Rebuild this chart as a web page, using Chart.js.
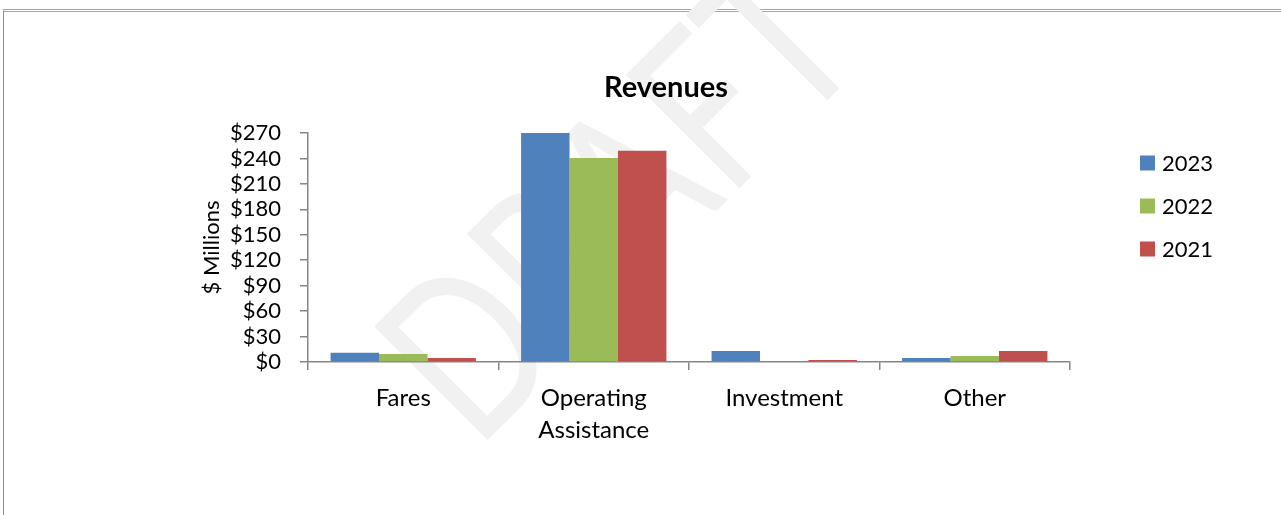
<!DOCTYPE html>
<html>
<head>
<meta charset="utf-8">
<script src="https://cdn.jsdelivr.net/npm/chart.js@4.4.1/dist/chart.umd.min.js"></script>
<style>
  html, body { margin: 0; padding: 0; background: #fff; }
  #wrap { position: relative; width: 1281px; height: 515px; overflow: hidden; }
  #frame { position: absolute; left: 3px; top: 9px; right: 0; bottom: 0;
           border-top: 3px double #a6a6a6; border-left: 1px solid #8c8c8c; }
  #watermark { position: absolute; left: 612px; top: 194px;
               transform: translate(-50%, -50%) rotate(-45deg) scale(0.77, 1);
               font-family: Lato, sans-serif; font-weight: 400; font-size: 224px; color: #f1f1f1;
               white-space: nowrap; line-height: 1; }
  canvas { position: absolute; left: 0; top: 0; }
</style>
</head>
<body>
<div id="wrap">
  <div id="frame"></div>
  <div id="watermark">DRAFT</div>
  <canvas id="revChart" width="1281" height="515"></canvas>
</div>
<script>
const chartTitle = "Revenues";
const categories = [["Fares"], ["Operating", "Assistance"], ["Investment"], ["Other"]];
const years = ["2023", "2022", "2021"];
const values2023 = [11, 270, 13, 4.7];
const values2022 = [9.5, 240.5, 0, 7];
const values2021 = [4.7, 249, 2.4, 13];
const yTicks = [0, 30, 60, 90, 120, 150, 180, 210, 240, 270];
const colors = ["#4F81BD", "#9BBB59", "#C0504D"];

const axisColor = "#868686";
const font = "Lato, 'Open Sans', sans-serif";

// title and legend drawn around the plot (legend uses the dataset colours)
const sideParts = {
  id: "sideParts",
  afterDraw(chart) {
    const c = chart.ctx;
    const area = chart.chartArea;
    c.save();
    c.fillStyle = "#000";
    c.textAlign = "center";
    c.textBaseline = "middle";
    c.font = "bold 29px " + font;
    c.fillText(chartTitle, 666, 88);

    c.textAlign = "left";
    c.font = "22px " + font;
    const x = area.right + 70;
    chart.data.datasets.forEach((ds, i) => {
      const y = area.top + 30 + i * 43;
      c.fillStyle = ds.backgroundColor;
      c.fillRect(x, y - 7.5, 15, 15);
      c.fillStyle = "#000";
      c.fillText(ds.label, x + 22, y + 1);
    });
    c.restore();
  }
};

const ctx = document.getElementById("revChart").getContext("2d");
const chart = new Chart(ctx, {
  type: "bar",
  data: {
    labels: categories,
    datasets: [
      { label: years[0], data: values2023, backgroundColor: colors[0] },
      { label: years[1], data: values2022, backgroundColor: colors[1] },
      { label: years[2], data: values2021, backgroundColor: colors[2] }
    ]
  },
  options: {
    responsive: false,
    animation: false,
    layout: { padding: { left: 193, right: 211, top: 133, bottom: 69 } },
    datasets: {
      bar: { barPercentage: 1, categoryPercentage: 0.763 }
    },
    plugins: {
      legend: { display: false },
      tooltip: { enabled: false },
      title: { display: false }
    },
    scales: {
      x: {
        afterFit: (axis) => { axis.height = 84; },
        grid: { drawOnChartArea: false, offset: true, tickLength: 8, color: axisColor, lineWidth: 1.5 },
        border: { color: axisColor, width: 1.5 },
        ticks: { color: "#000", padding: 12, maxRotation: 0, autoSkip: false,
                 font: { family: font, size: 24, lineHeight: 1.33 } }
      },
      y: {
        min: yTicks[0],
        max: yTicks[yTicks.length - 1],
        afterBuildTicks: (axis) => { axis.ticks = yTicks.map(v => ({ value: v })); },
        afterFit: (axis) => { axis.width = 115; },
        grid: { drawOnChartArea: false, tickLength: 8, color: axisColor, lineWidth: 1.5 },
        border: { color: axisColor, width: 1.5 },
        ticks: { color: "#000", padding: 19, autoSkip: false,
                 font: { family: font, size: 22, lineHeight: 1.15 },
                 callback: (v) => "$" + v },
        title: { display: true, text: "$ Millions", color: "#000",
                 font: { family: font, size: 22, lineHeight: 1.2 },
                 padding: { top: 6, bottom: 6 } }
      }
    }
  },
  plugins: [sideParts]
});
</script>
</body>
</html>
